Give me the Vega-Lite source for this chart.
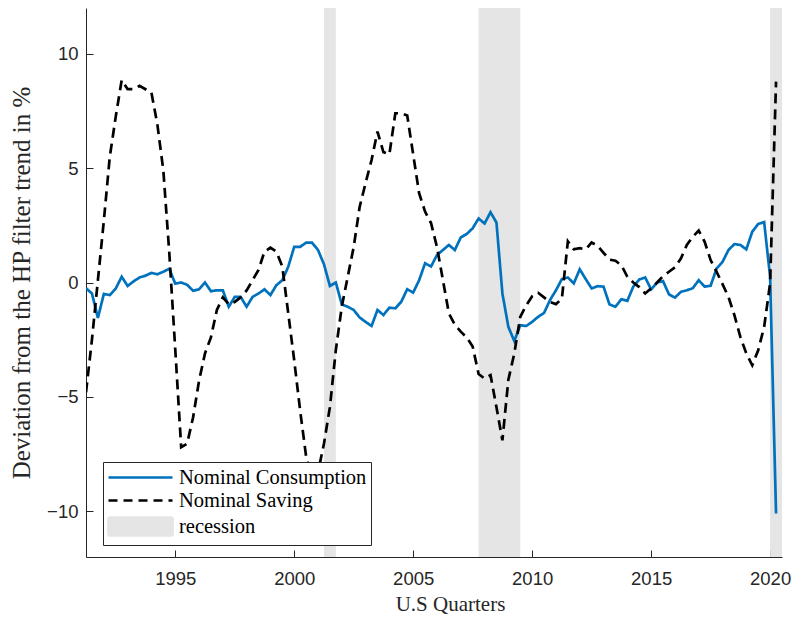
{
  "$schema": "https://vega.github.io/schema/vega-lite/v6.json",
  "width": 696,
  "height": 549,
  "autosize": {"type": "none"},
  "padding": {"left": 86, "top": 8, "right": 11, "bottom": 64},
  "background": "white",
  "config": {
    "view": {"stroke": null},
    "axis": {
      "grid": false,
      "domainColor": "#262626",
      "tickColor": "#262626",
      "labelColor": "#262626",
      "labelFont": "Liberation Sans",
      "labelFontSize": 18.5,
      "titleFont": "Liberation Serif",
      "titleFontSize": 21,
      "titleFontWeight": "normal",
      "titleColor": "#262626"
    }
  },
  "datasets": {
    "series": [
      {"t": 1991.25, "c": -0.25, "s": -4.8},
      {"t": 1991.5, "c": -0.48, "s": -2.5},
      {"t": 1991.75, "c": -1.55, "s": 0.1},
      {"t": 1992.0, "c": -0.5, "s": 2.7},
      {"t": 1992.25, "c": -0.55, "s": 5.5},
      {"t": 1992.5, "c": -0.26, "s": 7.25},
      {"t": 1992.75, "c": 0.25, "s": 8.85},
      {"t": 1993.0, "c": -0.15, "s": 8.45},
      {"t": 1993.25, "c": 0.05, "s": 8.45},
      {"t": 1993.5, "c": 0.22, "s": 8.6},
      {"t": 1993.75, "c": 0.3, "s": 8.45},
      {"t": 1994.0, "c": 0.42, "s": 8.3},
      {"t": 1994.25, "c": 0.36, "s": 6.9},
      {"t": 1994.5, "c": 0.47, "s": 4.9},
      {"t": 1994.75, "c": 0.6, "s": 1.3},
      {"t": 1995.0, "c": -0.05, "s": -2.9},
      {"t": 1995.25, "c": 0.0, "s": -7.2},
      {"t": 1995.5, "c": -0.1, "s": -7.05},
      {"t": 1995.75, "c": -0.36, "s": -5.9},
      {"t": 1996.0, "c": -0.3, "s": -4.3},
      {"t": 1996.25, "c": 0.0, "s": -3.1},
      {"t": 1996.5, "c": -0.38, "s": -2.4},
      {"t": 1996.75, "c": -0.34, "s": -1.2},
      {"t": 1997.0, "c": -0.34, "s": -0.65},
      {"t": 1997.25, "c": -1.06, "s": -0.95},
      {"t": 1997.5, "c": -0.63, "s": -0.85},
      {"t": 1997.75, "c": -0.63, "s": -0.65},
      {"t": 1998.0, "c": -1.06, "s": -0.35},
      {"t": 1998.25, "c": -0.63, "s": 0.1},
      {"t": 1998.5, "c": -0.48, "s": 0.55},
      {"t": 1998.75, "c": -0.3, "s": 1.35},
      {"t": 1999.0, "c": -0.55, "s": 1.52},
      {"t": 1999.25, "c": -0.12, "s": 1.35},
      {"t": 1999.5, "c": 0.1, "s": 0.7},
      {"t": 1999.75, "c": 0.69, "s": -1.35},
      {"t": 2000.0, "c": 1.56, "s": -3.4},
      {"t": 2000.25, "c": 1.56, "s": -5.6},
      {"t": 2000.5, "c": 1.74, "s": -7.6},
      {"t": 2000.75, "c": 1.74, "s": -8.5},
      {"t": 2001.0, "c": 1.42, "s": -8.3},
      {"t": 2001.25, "c": 0.8, "s": -7.05},
      {"t": 2001.5, "c": -0.15, "s": -5.45},
      {"t": 2001.75, "c": 0.0, "s": -2.95},
      {"t": 2002.0, "c": -0.96, "s": -1.05},
      {"t": 2002.25, "c": -1.06, "s": 0.25},
      {"t": 2002.5, "c": -1.2, "s": 1.55},
      {"t": 2002.75, "c": -1.53, "s": 3.3},
      {"t": 2003.0, "c": -1.72, "s": 4.35},
      {"t": 2003.25, "c": -1.9, "s": 5.35},
      {"t": 2003.5, "c": -1.2, "s": 6.6},
      {"t": 2003.75, "c": -1.42, "s": 5.7},
      {"t": 2004.0, "c": -1.1, "s": 5.6},
      {"t": 2004.25, "c": -1.13, "s": 7.4},
      {"t": 2004.5, "c": -0.84, "s": 7.4},
      {"t": 2004.75, "c": -0.29, "s": 7.3},
      {"t": 2005.0, "c": -0.44, "s": 5.6},
      {"t": 2005.25, "c": 0.1, "s": 3.9},
      {"t": 2005.5, "c": 0.84, "s": 3.1},
      {"t": 2005.75, "c": 0.7, "s": 2.6},
      {"t": 2006.0, "c": 1.2, "s": 1.55},
      {"t": 2006.25, "c": 1.42, "s": 0.1},
      {"t": 2006.5, "c": 1.64, "s": -1.35},
      {"t": 2006.75, "c": 1.42, "s": -1.85},
      {"t": 2007.0, "c": 1.97, "s": -2.15},
      {"t": 2007.25, "c": 2.12, "s": -2.4},
      {"t": 2007.5, "c": 2.37, "s": -2.8},
      {"t": 2007.75, "c": 2.8, "s": -4.0},
      {"t": 2008.0, "c": 2.58, "s": -4.2},
      {"t": 2008.25, "c": 3.07, "s": -4.05},
      {"t": 2008.5, "c": 2.62, "s": -5.45},
      {"t": 2008.75, "c": -0.48, "s": -6.9},
      {"t": 2009.0, "c": -1.94, "s": -4.25},
      {"t": 2009.25, "c": -2.56, "s": -3.1},
      {"t": 2009.5, "c": -1.87, "s": -1.5},
      {"t": 2009.75, "c": -1.9, "s": -1.0},
      {"t": 2010.0, "c": -1.72, "s": -0.6},
      {"t": 2010.25, "c": -1.5, "s": -0.45},
      {"t": 2010.5, "c": -1.33, "s": -0.65},
      {"t": 2010.75, "c": -0.77, "s": -0.85},
      {"t": 2011.0, "c": -0.34, "s": -0.95},
      {"t": 2011.25, "c": 0.15, "s": -0.7},
      {"t": 2011.5, "c": 0.22, "s": 1.8},
      {"t": 2011.75, "c": -0.04, "s": 1.45},
      {"t": 2012.0, "c": 0.58, "s": 1.5},
      {"t": 2012.25, "c": 0.15, "s": 1.45},
      {"t": 2012.5, "c": -0.26, "s": 1.75},
      {"t": 2012.75, "c": -0.16, "s": 1.6},
      {"t": 2013.0, "c": -0.18, "s": 1.3},
      {"t": 2013.25, "c": -0.96, "s": 1.0},
      {"t": 2013.5, "c": -1.06, "s": 0.95},
      {"t": 2013.75, "c": -0.73, "s": 0.75},
      {"t": 2014.0, "c": -0.8, "s": 0.25},
      {"t": 2014.25, "c": -0.18, "s": 0.0},
      {"t": 2014.5, "c": 0.13, "s": -0.2},
      {"t": 2014.75, "c": 0.22, "s": -0.48},
      {"t": 2015.0, "c": -0.3, "s": -0.26},
      {"t": 2015.25, "c": 0.0, "s": 0.0},
      {"t": 2015.5, "c": 0.06, "s": 0.28},
      {"t": 2015.75, "c": -0.52, "s": 0.47},
      {"t": 2016.0, "c": -0.66, "s": 0.66},
      {"t": 2016.25, "c": -0.41, "s": 1.05},
      {"t": 2016.5, "c": -0.34, "s": 1.64},
      {"t": 2016.75, "c": -0.25, "s": 2.0},
      {"t": 2017.0, "c": 0.1, "s": 2.27},
      {"t": 2017.25, "c": -0.18, "s": 1.78},
      {"t": 2017.5, "c": -0.14, "s": 0.98},
      {"t": 2017.75, "c": 0.61, "s": 0.47},
      {"t": 2018.0, "c": 0.9, "s": -0.07},
      {"t": 2018.25, "c": 1.42, "s": -0.63},
      {"t": 2018.5, "c": 1.68, "s": -1.43},
      {"t": 2018.75, "c": 1.64, "s": -2.38},
      {"t": 2019.0, "c": 1.45, "s": -3.1},
      {"t": 2019.25, "c": 2.22, "s": -3.62},
      {"t": 2019.5, "c": 2.56, "s": -2.96},
      {"t": 2019.75, "c": 2.64, "s": -1.94},
      {"t": 2020.0, "c": 0.25, "s": -0.04},
      {"t": 2020.25, "c": -10.1, "s": 8.78}
    ],
    "recessions": [
      {"start": 2001.25, "end": 2001.75, "series": "recession"},
      {"start": 2007.75, "end": 2009.5, "series": "recession"},
      {"start": 2020.0, "end": 2020.5, "series": "recession"}
    ]
  },
  "layer": [
    {
      "data": {"name": "recessions"},
      "mark": {"type": "rect", "strokeWidth": 0},
      "encoding": {
        "x": {
          "field": "start", "type": "quantitative",
          "scale": {"domain": [1991.25, 2020.5], "nice": false, "zero": false},
          "axis": {
            "values": [1995, 2000, 2005, 2010, 2015, 2020],
            "format": "d",
            "title": "U.S Quarters",
            "tickSize": -7,
            "labelPadding": 19,
            "titlePadding": 6,
            "titleX": 364
          }
        },
        "x2": {"field": "end"},
        "color": {
          "field": "series", "type": "nominal",
          "scale": {
            "domain": ["Nominal Consumption", "Nominal Saving", "recession"],
            "range": ["#0072BD", "#000000", "#E5E5E5"]
          },
          "legend": {
            "orient": "none",
            "legendX": 17,
            "legendY": 454,
            "title": null,
            "strokeColor": "#262626",
            "fillColor": "#ffffff",
            "padding": 4,
            "labelFont": "Liberation Serif",
            "labelFontSize": 20.5,
            "labelColor": "#000000",
            "labelLimit": 400,
            "labelOffset": 49,
            "rowPadding": 1,
            "symbolSize": 400,
            "symbolStrokeWidth": 2.7,
            "encode": {
              "symbols": {
                "update": {
                  "shape": {"signal": "datum.value === 'recession' ? 'M-1,-0.9L5.4,-0.9L5.4,0.9L-1,0.9Z' : 'M-1,0L5.4,0'"},
                  "fill": {"signal": "datum.value === 'recession' ? '#E5E5E5' : 'transparent'"},
                  "stroke": {"signal": "datum.value === 'recession' ? 'transparent' : (datum.value === 'Nominal Saving' ? '#000000' : '#0072BD')"},
                  "strokeDash": {"signal": "datum.value === 'Nominal Saving' ? [9, 6] : [1, 0]"},
                  "strokeWidth": {"value": 2.7},
                  "opacity": {"value": 1},
                  "size": {"value": 400}
                }
              }
            }
          }
        }
      }
    },
    {
      "data": {"name": "series"},
      "transform": [
        {"fold": ["c", "s"], "as": ["key", "v"]},
        {"calculate": "datum.key === 'c' ? 'Nominal Consumption' : 'Nominal Saving'", "as": "series"}
      ],
      "mark": {"type": "line", "strokeWidth": 2.7, "clip": true},
      "encoding": {
        "x": {"field": "t", "type": "quantitative"},
        "y": {
          "field": "v", "type": "quantitative",
          "scale": {"domain": [-12, 12], "nice": false, "zero": false},
          "axis": {
            "values": [-10, -5, 0, 5, 10],
            "title": "Deviation from the HP filter trend in %",
            "titleFontSize": 25,
            "tickSize": -7,
            "labelPadding": 15,
            "titlePadding": 12
          }
        },
        "color": {"field": "series", "type": "nominal"},
        "strokeDash": {
          "field": "series", "type": "nominal",
          "scale": {"domain": ["Nominal Consumption", "Nominal Saving"], "range": [[1, 0], [10, 6]]},
          "legend": null
        }
      }
    }
  ]
}
